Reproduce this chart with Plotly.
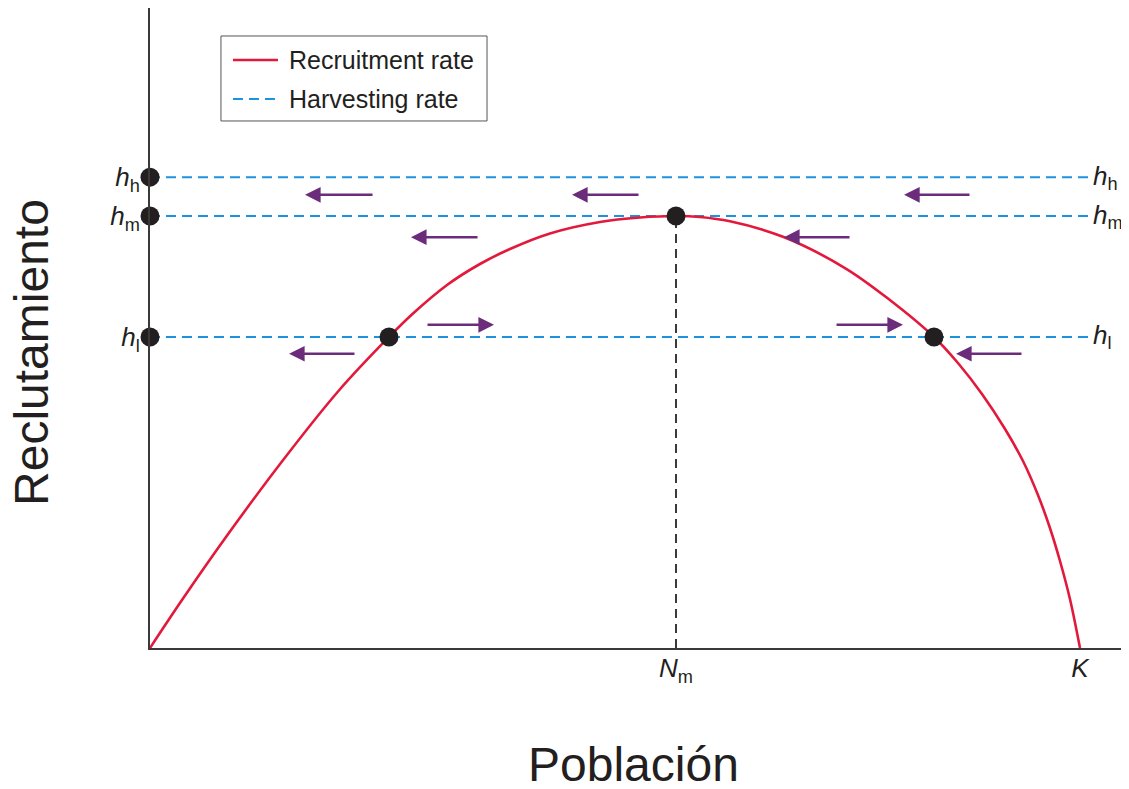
import plotly.graph_objects as go

# ---------------- data (population in % of K, recruitment in % of maximum) ----------------
population = [0, 3.44, 8.17, 14.19, 20.22, 25.70, 28.28, 31.94, 35.48, 38.71, 43.01, 48.39,
              52.69, 56.56, 59.14, 62.37, 68.06, 74.73, 79.35, 84.30, 86.88, 89.46, 91.94,
              93.87, 95.48, 96.77, 97.85, 98.92, 100]
recruitment = [0, 11.11, 25.69, 43.17, 59.38, 72.0, 77.43, 84.03, 88.89, 92.36, 95.95, 98.61,
               99.65, 100, 99.77, 98.77, 95.19, 87.96, 80.90, 72.0, 65.97, 58.80, 50.69,
               43.29, 35.42, 27.78, 20.14, 11.34, 0]

harvest_levels = [109.0, 100.0, 72.0]          # h_h, h_m, h_l
harvest_subs = ["h", "m", "l"]
harvest_end = 101.08

N_m = 56.56
K = 100

equilibria_x = [0, 0, 0, 25.70, 56.56, 84.30]
equilibria_y = [109.0, 100.0, 72.0, 72.0, 100.0, 72.0]

# arrows showing direction of population change
arrow_start = [24.09, 52.69, 88.28, 35.38, 75.38, 29.68, 73.66, 22.15, 93.87]
arrow_end = [16.67, 45.38, 81.08, 28.06, 68.17, 36.99, 80.97, 14.95, 86.67]
arrow_level = [104.9, 104.9, 104.9, 95.1, 95.1, 74.8, 74.8, 68.1, 68.1]

# ---------------- style ----------------
FONT = "Liberation Sans, Arial, Helvetica, sans-serif"
TXT = "#231F20"
RED = "#E3193B"
BLUE = "#1E93DD"
PURPLE = "#6B2D7B"
AXIS = "#3A3A3A"

fig = go.Figure()

# harvesting lines
hx, hy = [], []
for lvl in harvest_levels:
    hx += [0, harvest_end, None]
    hy += [lvl, lvl, None]
fig.add_trace(go.Scatter(x=hx, y=hy, mode="lines", name="Harvesting rate",
                         line=dict(color=BLUE, width=2, dash="10px,6px"),
                         showlegend=False, hoverinfo="skip"))

# vertical dashed line at N_m
fig.add_trace(go.Scatter(x=[N_m, N_m], y=[0, max(recruitment)], mode="lines",
                         line=dict(color=AXIS, width=2, dash="9px,6px"),
                         showlegend=False, hoverinfo="skip"))

# recruitment curve
fig.add_trace(go.Scatter(x=population, y=recruitment, mode="lines", name="Recruitment rate",
                         line=dict(color=RED, width=2.6, shape="spline", smoothing=1.0),
                         showlegend=False))

# equilibrium points
fig.add_trace(go.Scatter(x=equilibria_x, y=equilibria_y, mode="markers",
                         marker=dict(color=TXT, size=19), cliponaxis=False,
                         showlegend=False))

annotations = []
for s, e, lvl in zip(arrow_start, arrow_end, arrow_level):
    annotations.append(dict(x=e, y=lvl, ax=s, ay=lvl, xref="x", yref="y", axref="x", ayref="y",
                            text="", showarrow=True, arrowhead=2, arrowsize=1.25,
                            arrowwidth=2.5, arrowcolor=PURPLE))

# right-hand labels for harvest levels
for lvl, sub in zip(harvest_levels, harvest_subs):
    annotations.append(dict(x=harvest_end + 0.15, y=lvl, xref="x", yref="y", xanchor="left",
                            yanchor="middle", showarrow=False,
                            text=f"<i>h</i><sub>{sub}</sub>",
                            font=dict(family=FONT, size=26, color=TXT)))

# axis titles
annotations.append(dict(x=0.494, y=-0.182, xref="paper", yref="paper", showarrow=False,
                        text="Población", font=dict(family=FONT, size=48, color=TXT),
                        xanchor="center", yanchor="middle"))
annotations.append(dict(x=-0.1216, y=0.4625, xref="paper", yref="paper", showarrow=False,
                        text="Reclutamiento", textangle=-90,
                        font=dict(family=FONT, size=48, color=TXT),
                        xanchor="center", yanchor="middle"))

# legend (drawn manually)
leg_x0, leg_x1, leg_y0, leg_y1 = 7.63, 36.24, 122.0, 141.67
shapes = [
    dict(type="rect", xref="x", yref="y", x0=leg_x0, x1=leg_x1, y0=leg_y0, y1=leg_y1,
         line=dict(color="#555555", width=1), fillcolor="white", layer="above"),
    dict(type="line", xref="x", yref="y", x0=8.92, x1=13.76, y0=136.1, y1=136.1,
         line=dict(color=RED, width=2.6), layer="above"),
    dict(type="line", xref="x", yref="y", x0=8.92, x1=13.76, y0=127.1, y1=127.1,
         line=dict(color=BLUE, width=2, dash="10px,6px"), layer="above"),
]
annotations.append(dict(x=14.73, y=136.1, xref="x", yref="y", xanchor="left", yanchor="middle",
                        showarrow=False, text="Recruitment rate",
                        font=dict(family=FONT, size=25, color=TXT)))
annotations.append(dict(x=14.73, y=127.1, xref="x", yref="y", xanchor="left", yanchor="middle",
                        showarrow=False, text="Harvesting rate",
                        font=dict(family=FONT, size=25, color=TXT)))

fig.update_layout(
    width=1121, height=781,
    margin=dict(l=142, r=0, t=0, b=141),
    paper_bgcolor="white", plot_bgcolor="white",
    font=dict(family=FONT, color=TXT),
    annotations=annotations, shapes=shapes,
    showlegend=False,
)
fig.update_xaxes(range=[0, 105.27], showgrid=False, zeroline=False, showline=True,
                 linecolor=AXIS, linewidth=2,
                 tickvals=[N_m, K], ticktext=["<i>N</i><sub>m</sub>", "<i>K</i>"],
                 ticks="", ticklabelstandoff=-4,
                 tickfont=dict(family=FONT, size=26, color=TXT))
fig.update_yaxes(range=[0, 148.15], showgrid=False, zeroline=False, showline=True,
                 linecolor=AXIS, linewidth=2,
                 tickvals=harvest_levels,
                 ticktext=[f"<i>h</i><sub>{s}</sub>" for s in harvest_subs],
                 ticks="outside", ticklen=3, tickcolor="rgba(0,0,0,0)",
                 tickfont=dict(family=FONT, size=26, color=TXT))

fig.write_html("out.html")
